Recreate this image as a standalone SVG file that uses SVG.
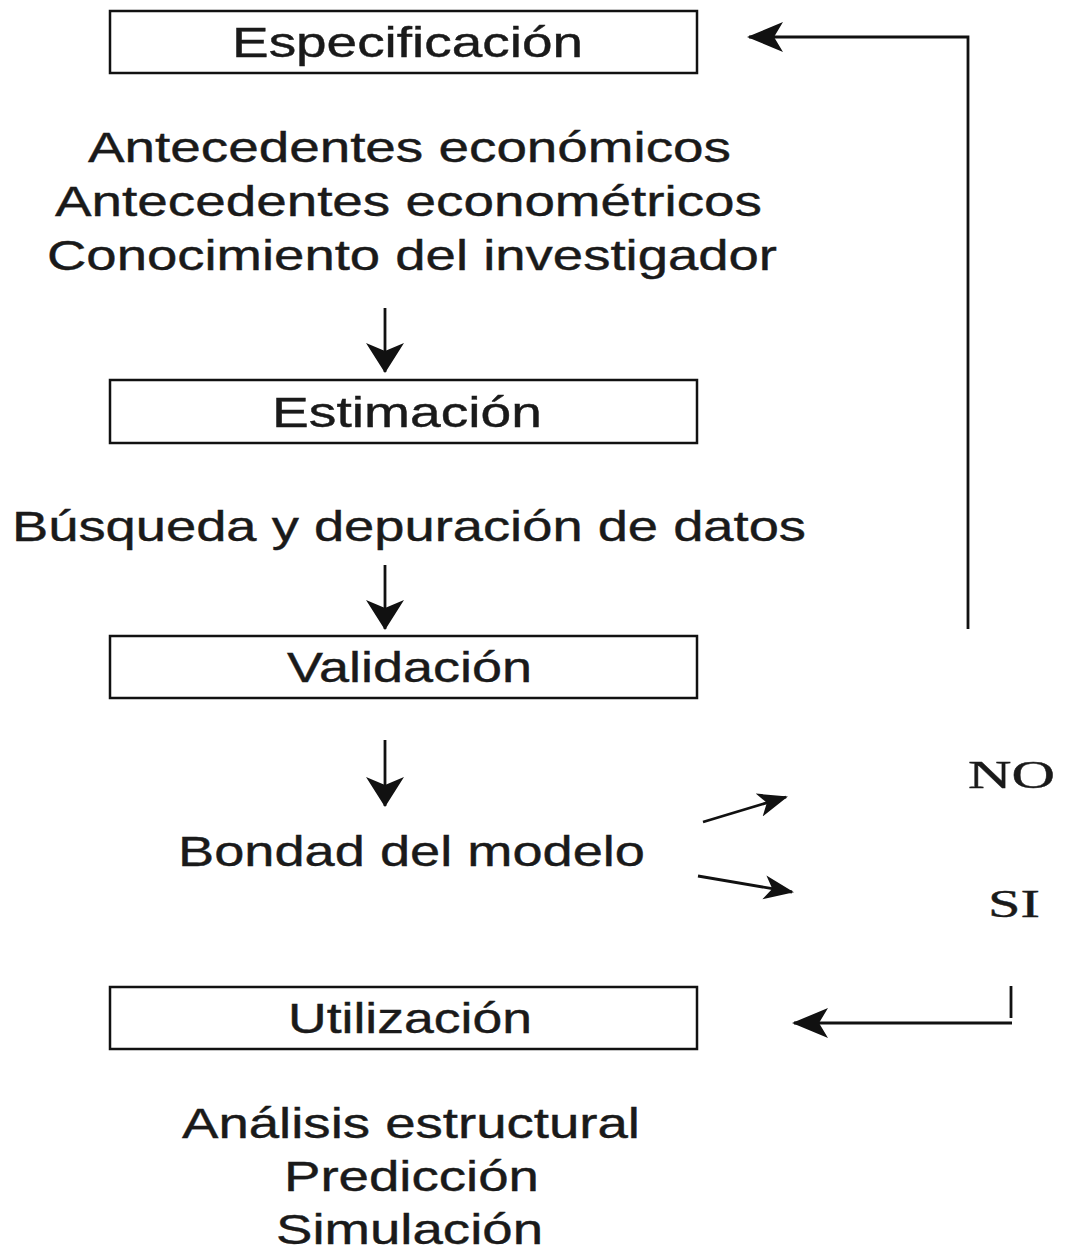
<svg xmlns="http://www.w3.org/2000/svg" width="1066" height="1255" viewBox="0 0 1066 1255">
<style>
.box{fill:#fff;stroke:#111;stroke-width:2.5}
.t{font-family:"Liberation Sans",Arial,sans-serif;font-size:42px;fill:#1a1a1a;stroke:#1a1a1a;stroke-width:0.4}
.s{font-family:"Liberation Serif","Times New Roman",serif;font-size:39px;fill:#1a1a1a;stroke:#1a1a1a;stroke-width:0.4}
.ln{fill:none;stroke:#111;stroke-width:2.8}
</style>
<defs>
<marker id="ah" markerUnits="userSpaceOnUse" markerWidth="36" markerHeight="34" viewBox="0 0 36 34" refX="34" refY="17" orient="auto">
<path d="M0,2 L36,17 L0,32 L9,17 z" fill="#111"/>
</marker>
<marker id="ahd" markerUnits="userSpaceOnUse" markerWidth="30" markerHeight="40" viewBox="0 0 30 40" refX="29" refY="20" orient="auto">
<path d="M0,1 L30,20 L0,39 L8,20 z" fill="#111"/>
</marker>
<marker id="ahs" markerUnits="userSpaceOnUse" markerWidth="30" markerHeight="26" viewBox="0 0 30 26" refX="28" refY="13" orient="auto">
<path d="M0,1 L30,13 L0,25 L8,13 z" fill="#111"/>
</marker>
</defs>
<rect width="1066" height="1255" fill="#fff"/>
<g id="especificacion">
<rect class="box" x="110" y="11" width="587" height="62"/>
<text class="t" x="232" y="57" textLength="351" lengthAdjust="spacingAndGlyphs">Especificación</text>
</g>
<g id="antecedentes">
<text class="t" x="88" y="162" textLength="643" lengthAdjust="spacingAndGlyphs">Antecedentes económicos</text>
<text class="t" x="55" y="216" textLength="707" lengthAdjust="spacingAndGlyphs">Antecedentes econométricos</text>
<text class="t" x="47" y="270" textLength="730" lengthAdjust="spacingAndGlyphs">Conocimiento del investigador</text>
</g>
<g id="estimacion">
<rect class="box" x="110" y="380" width="587" height="63"/>
<text class="t" x="272" y="427" textLength="270" lengthAdjust="spacingAndGlyphs">Estimación</text>
</g>
<g id="busqueda">
<text class="t" x="12" y="541" textLength="794" lengthAdjust="spacingAndGlyphs">Búsqueda y depuración de datos</text>
</g>
<g id="validacion">
<rect class="box" x="110" y="636" width="587" height="62"/>
<text class="t" x="287" y="682" textLength="245" lengthAdjust="spacingAndGlyphs">Validación</text>
</g>
<g id="bondad">
<text class="t" x="178" y="866" textLength="467" lengthAdjust="spacingAndGlyphs">Bondad del modelo</text>
</g>
<g id="no">
<text class="s" x="968" y="788" textLength="87" lengthAdjust="spacingAndGlyphs">NO</text>
</g>
<g id="si">
<text class="s" x="988" y="917" textLength="52" lengthAdjust="spacingAndGlyphs">SI</text>
</g>
<g id="utilizacion">
<rect class="box" x="110" y="987" width="587" height="62"/>
<text class="t" x="288" y="1033" textLength="244" lengthAdjust="spacingAndGlyphs">Utilización</text>
</g>
<g id="usos">
<text class="t" x="182" y="1138" textLength="458" lengthAdjust="spacingAndGlyphs">Análisis estructural</text>
<text class="t" x="284" y="1191" textLength="255" lengthAdjust="spacingAndGlyphs">Predicción</text>
<text class="t" x="276" y="1244" textLength="267" lengthAdjust="spacingAndGlyphs">Simulación</text>
</g>
<g id="connectors">
<line class="ln" x1="385" y1="308" x2="385" y2="372" marker-end="url(#ahd)"/>
<line class="ln" x1="385" y1="565" x2="385" y2="629" marker-end="url(#ahd)"/>
<line class="ln" x1="385" y1="740" x2="385" y2="806" marker-end="url(#ahd)"/>
<line class="ln" x1="703" y1="822" x2="786" y2="797" marker-end="url(#ahs)"/>
<line class="ln" x1="698" y1="876" x2="792" y2="892" marker-end="url(#ahs)"/>
<polyline class="ln" points="968,629 968,37 749,37" marker-end="url(#ah)"/>
<polyline class="ln" points="1011,986 1011,1018"/>
<line class="ln" x1="1012" y1="1023" x2="794" y2="1023" marker-end="url(#ah)"/>
</g>
</svg>
